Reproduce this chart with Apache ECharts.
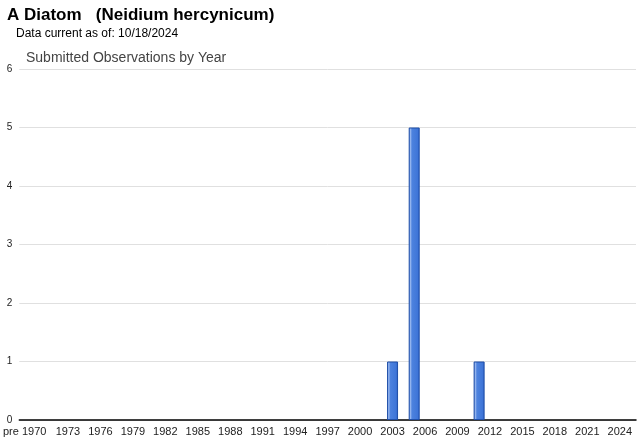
<!DOCTYPE html>
<html>
<head>
<meta charset="utf-8">
<script src="https://cdn.jsdelivr.net/npm/echarts@6/dist/echarts.min.js"></script>
<style>html,body{margin:0;padding:0;background:#fff}#c{width:640px;height:442px}</style>
</head>
<body>
<div id="c"></div>
<script>
const years = ["pre 1970"];
for (let y = 1970; y <= 2025; y++) years.push(String(y));
const obsYears = ["2003", "2005", "2011"];
const obsCounts = [1, 5, 1];
const yTicks = [0, 1, 2, 3, 4, 5, 6];

const values = years.map(c => {
  const k = obsYears.indexOf(c);
  const v = k >= 0 ? obsCounts[k] : 0;
  return v > 0 ? v : {value: 0, itemStyle: {borderWidth: 0, opacity: 0}};
});
const showIdx = i => i === 0 || (i >= 4 && (i - 4) % 3 === 0 && i <= 55);

const chart = echarts.init(document.getElementById('c'), null, {renderer: 'canvas'});
chart.setOption({
  animation: false,
  textStyle: {fontFamily: 'Liberation Sans, Arial, sans-serif'},
  title: [
    {text: 'A Diatom   (Neidium hercynicum)', left: 7, top: 7, padding: 0,
     textStyle: {fontSize: 17, fontWeight: 'bold', color: '#000', fontFamily: 'Liberation Sans, Arial'}},
    {text: 'Data current as of: 10/18/2024', left: 16, top: 28, padding: 0,
     textStyle: {fontSize: 12, fontWeight: 'normal', color: '#000', fontFamily: 'Liberation Sans, Arial'}},
    {text: 'Submitted Observations by Year', left: 26, top: 51, padding: 0,
     textStyle: {fontSize: 14, fontWeight: 'normal', color: '#444', fontFamily: 'Liberation Sans, Arial'}}
  ],
  grid: {left: 18, right: 4, top: 69, bottom: 22, containLabel: false},
  xAxis: {
    type: 'category',
    data: years,
    boundaryGap: true,
    axisLine: {lineStyle: {color: '#000', width: 1.5}},
    axisTick: {alignWithLabel: true, interval: (i) => showIdx(i), length: 4, lineStyle: {color: '#ccc'}},
    axisLabel: {interval: (i) => showIdx(i), color: '#222', fontSize: 11, margin: 6,
      fontFamily: 'Liberation Sans, Arial'},
    splitLine: {show: false}
  },
  yAxis: {
    type: 'value',
    min: yTicks[0], max: yTicks[yTicks.length - 1], interval: 1,
    axisLine: {show: false},
    axisTick: {show: false},
    axisLabel: {color: '#222', fontSize: 10, margin: 7, fontFamily: 'Liberation Sans, Arial'},
    splitLine: {lineStyle: {color: '#e0e0e0', width: 1}}
  },
  series: [{
    type: 'bar',
    data: values,
    barWidth: 11,
    itemStyle: {
      color: new echarts.graphic.LinearGradient(0, 0, 1, 0, [
        {offset: 0, color: '#3a6fd0'},
        {offset: 0.15, color: '#9ab9f0'},
        {offset: 0.3, color: '#4d82de'},
        {offset: 0.8, color: '#3f76d8'},
        {offset: 1, color: '#2b5ec2'}
      ]),
      borderColor: '#1f4fa8',
      borderWidth: 1
    }
  }]
});
</script>
</body>
</html>
